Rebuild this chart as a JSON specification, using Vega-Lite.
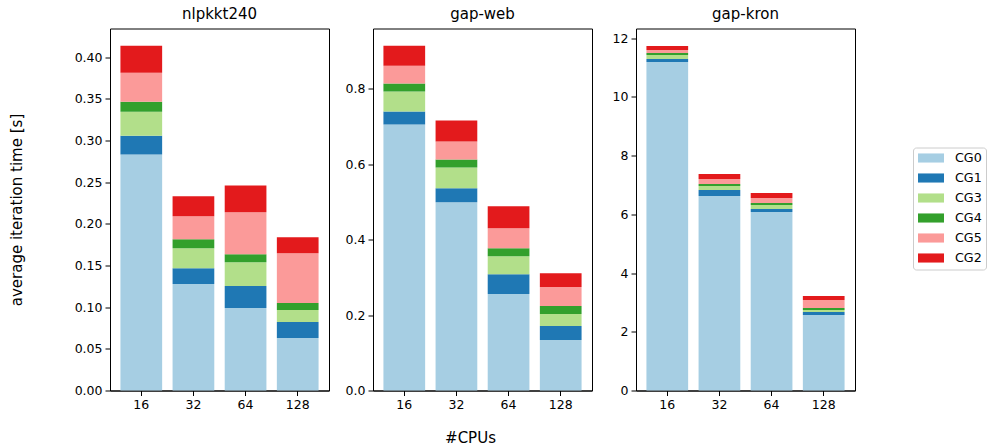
{
  "$schema": "https://vega.github.io/schema/vega-lite/v6.json",
  "padding": {"left": 8, "top": 5.5, "right": 0, "bottom": 0},
  "bounds": "flush",
  "spacing": 44,
  "config": {
    "font": "DejaVu Sans",
    "view": {"stroke": "black", "strokeWidth": 1},
    "axis": {
      "domainColor": "black", "tickColor": "black", "labelColor": "black", "titleColor": "black",
      "labelFont": "DejaVu Sans", "titleFont": "DejaVu Sans",
      "labelFontSize": 12.5, "titleFontSize": 15, "titleFontWeight": "normal",
      "tickSize": 5, "labelPadding": 3, "grid": false, "domainWidth": 1, "tickWidth": 1
    },
    "title": {"fontSize": 15, "fontWeight": "normal", "color": "black", "font": "DejaVu Sans", "offset": 7},
    "legend": {
      "orient": "none", "legendX": 803, "legendY": 119,
      "title": null, "labelFontSize": 12.7, "labelFont": "DejaVu Sans", "labelColor": "black",
      "strokeColor": "#cccccc", "fillColor": "white", "padding": 4, "cornerRadius": 3,
      "symbolType": "M-2,-0.7H2V0.7H-2Z", "symbolSize": 169, "symbolStrokeWidth": 0,
      "symbolOffset": 7.5, "labelOffset": 17.5, "rowPadding": 6
    }
  },
  "datasets": {
    "groups": [
      {"cg": "CG0", "rank": 0}, {"cg": "CG1", "rank": 1}, {"cg": "CG3", "rank": 2},
      {"cg": "CG4", "rank": 3}, {"cg": "CG5", "rank": 4}, {"cg": "CG2", "rank": 5}
    ]
  },
  "data": {"values": [
    {"g": "nlpkkt240", "cpus": 16, "cg": "CG0", "t": 0.283},
    {"g": "nlpkkt240", "cpus": 16, "cg": "CG1", "t": 0.0227},
    {"g": "nlpkkt240", "cpus": 16, "cg": "CG3", "t": 0.0287},
    {"g": "nlpkkt240", "cpus": 16, "cg": "CG4", "t": 0.012},
    {"g": "nlpkkt240", "cpus": 16, "cg": "CG5", "t": 0.0347},
    {"g": "nlpkkt240", "cpus": 16, "cg": "CG2", "t": 0.0323},
    {"g": "nlpkkt240", "cpus": 32, "cg": "CG0", "t": 0.1276},
    {"g": "nlpkkt240", "cpus": 32, "cg": "CG1", "t": 0.0191},
    {"g": "nlpkkt240", "cpus": 32, "cg": "CG3", "t": 0.024},
    {"g": "nlpkkt240", "cpus": 32, "cg": "CG4", "t": 0.0107},
    {"g": "nlpkkt240", "cpus": 32, "cg": "CG5", "t": 0.0275},
    {"g": "nlpkkt240", "cpus": 32, "cg": "CG2", "t": 0.024},
    {"g": "nlpkkt240", "cpus": 64, "cg": "CG0", "t": 0.0989},
    {"g": "nlpkkt240", "cpus": 64, "cg": "CG1", "t": 0.0263},
    {"g": "nlpkkt240", "cpus": 64, "cg": "CG3", "t": 0.0287},
    {"g": "nlpkkt240", "cpus": 64, "cg": "CG4", "t": 0.0096},
    {"g": "nlpkkt240", "cpus": 64, "cg": "CG5", "t": 0.0502},
    {"g": "nlpkkt240", "cpus": 64, "cg": "CG2", "t": 0.0323},
    {"g": "nlpkkt240", "cpus": 128, "cg": "CG0", "t": 0.063},
    {"g": "nlpkkt240", "cpus": 128, "cg": "CG1", "t": 0.0191},
    {"g": "nlpkkt240", "cpus": 128, "cg": "CG3", "t": 0.0144},
    {"g": "nlpkkt240", "cpus": 128, "cg": "CG4", "t": 0.0084},
    {"g": "nlpkkt240", "cpus": 128, "cg": "CG5", "t": 0.0598},
    {"g": "nlpkkt240", "cpus": 128, "cg": "CG2", "t": 0.0191},
    {"g": "gap-web", "cpus": 16, "cg": "CG0", "t": 0.7056},
    {"g": "gap-web", "cpus": 16, "cg": "CG1", "t": 0.0344},
    {"g": "gap-web", "cpus": 16, "cg": "CG3", "t": 0.053},
    {"g": "gap-web", "cpus": 16, "cg": "CG4", "t": 0.0212},
    {"g": "gap-web", "cpus": 16, "cg": "CG5", "t": 0.0476},
    {"g": "gap-web", "cpus": 16, "cg": "CG2", "t": 0.053},
    {"g": "gap-web", "cpus": 32, "cg": "CG0", "t": 0.4992},
    {"g": "gap-web", "cpus": 32, "cg": "CG1", "t": 0.0371},
    {"g": "gap-web", "cpus": 32, "cg": "CG3", "t": 0.0555},
    {"g": "gap-web", "cpus": 32, "cg": "CG4", "t": 0.0212},
    {"g": "gap-web", "cpus": 32, "cg": "CG5", "t": 0.0476},
    {"g": "gap-web", "cpus": 32, "cg": "CG2", "t": 0.0556},
    {"g": "gap-web", "cpus": 64, "cg": "CG0", "t": 0.2558},
    {"g": "gap-web", "cpus": 64, "cg": "CG1", "t": 0.0529},
    {"g": "gap-web", "cpus": 64, "cg": "CG3", "t": 0.0476},
    {"g": "gap-web", "cpus": 64, "cg": "CG4", "t": 0.0212},
    {"g": "gap-web", "cpus": 64, "cg": "CG5", "t": 0.0529},
    {"g": "gap-web", "cpus": 64, "cg": "CG2", "t": 0.0582},
    {"g": "gap-web", "cpus": 128, "cg": "CG0", "t": 0.1341},
    {"g": "gap-web", "cpus": 128, "cg": "CG1", "t": 0.037},
    {"g": "gap-web", "cpus": 128, "cg": "CG3", "t": 0.0318},
    {"g": "gap-web", "cpus": 128, "cg": "CG4", "t": 0.0211},
    {"g": "gap-web", "cpus": 128, "cg": "CG5", "t": 0.0503},
    {"g": "gap-web", "cpus": 128, "cg": "CG2", "t": 0.0371},
    {"g": "gap-kron", "cpus": 16, "cg": "CG0", "t": 11.19},
    {"g": "gap-kron", "cpus": 16, "cg": "CG1", "t": 0.102},
    {"g": "gap-kron", "cpus": 16, "cg": "CG3", "t": 0.136},
    {"g": "gap-kron", "cpus": 16, "cg": "CG4", "t": 0.068},
    {"g": "gap-kron", "cpus": 16, "cg": "CG5", "t": 0.102},
    {"g": "gap-kron", "cpus": 16, "cg": "CG2", "t": 0.136},
    {"g": "gap-kron", "cpus": 32, "cg": "CG0", "t": 6.625},
    {"g": "gap-kron", "cpus": 32, "cg": "CG1", "t": 0.205},
    {"g": "gap-kron", "cpus": 32, "cg": "CG3", "t": 0.136},
    {"g": "gap-kron", "cpus": 32, "cg": "CG4", "t": 0.068},
    {"g": "gap-kron", "cpus": 32, "cg": "CG5", "t": 0.17},
    {"g": "gap-kron", "cpus": 32, "cg": "CG2", "t": 0.17},
    {"g": "gap-kron", "cpus": 64, "cg": "CG0", "t": 6.08},
    {"g": "gap-kron", "cpus": 64, "cg": "CG1", "t": 0.102},
    {"g": "gap-kron", "cpus": 64, "cg": "CG3", "t": 0.136},
    {"g": "gap-kron", "cpus": 64, "cg": "CG4", "t": 0.068},
    {"g": "gap-kron", "cpus": 64, "cg": "CG5", "t": 0.17},
    {"g": "gap-kron", "cpus": 64, "cg": "CG2", "t": 0.17},
    {"g": "gap-kron", "cpus": 128, "cg": "CG0", "t": 2.568},
    {"g": "gap-kron", "cpus": 128, "cg": "CG1", "t": 0.102},
    {"g": "gap-kron", "cpus": 128, "cg": "CG3", "t": 0.068},
    {"g": "gap-kron", "cpus": 128, "cg": "CG4", "t": 0.068},
    {"g": "gap-kron", "cpus": 128, "cg": "CG5", "t": 0.273},
    {"g": "gap-kron", "cpus": 128, "cg": "CG2", "t": 0.136}
  ]},
  "transform": [
    {"lookup": "cg", "from": {"data": {"name": "groups"}, "key": "cg", "fields": ["rank"]}}
  ],
  "hconcat": [
    {
      "title": "nlpkkt240",
      "width": 219, "height": 362,
      "transform": [{"filter": "datum.g === 'nlpkkt240'"}],
      "mark": {"type": "bar"},
      "encoding": {
        "x": {"field": "cpus", "type": "ordinal", "scale": {"paddingInner": 0.2, "paddingOuter": 0.2}, "axis": {"title": null, "labelAngle": 0}},
        "y": {"field": "t", "type": "quantitative", "stack": "zero", "scale": {"domain": [0, 0.4342], "nice": false, "zero": true},
              "axis": {"title": "average iteration time [s]", "titlePadding": 50, "values": [0, 0.05, 0.1, 0.15, 0.2, 0.25, 0.3, 0.35, 0.4], "format": ".2f"}},
        "order": {"field": "rank", "type": "quantitative", "sort": "ascending"},
        "color": {"field": "cg", "type": "nominal", "sort": ["CG0", "CG1", "CG3", "CG4", "CG5", "CG2"],
                  "scale": {"domain": ["CG0", "CG1", "CG3", "CG4", "CG5", "CG2"], "range": ["#a6cee3", "#1f78b4", "#b2df8a", "#33a02c", "#fb9a99", "#e31a1c"]}}
      }
    },
    {
      "title": "gap-web",
      "width": 219, "height": 362,
      "transform": [{"filter": "datum.g === 'gap-web'"}],
      "mark": {"type": "bar"},
      "encoding": {
        "x": {"field": "cpus", "type": "ordinal", "scale": {"paddingInner": 0.2, "paddingOuter": 0.2}, "axis": {"title": "#CPUs", "labelAngle": 0, "titlePadding": 19.5, "titleX": 97}},
        "y": {"field": "t", "type": "quantitative", "stack": "zero", "scale": {"domain": [0, 0.9604], "nice": false, "zero": true},
              "axis": {"title": null, "values": [0, 0.2, 0.4, 0.6, 0.8], "format": ".1f"}},
        "order": {"field": "rank", "type": "quantitative", "sort": "ascending"},
        "color": {"field": "cg", "type": "nominal", "sort": ["CG0", "CG1", "CG3", "CG4", "CG5", "CG2"],
                  "scale": {"domain": ["CG0", "CG1", "CG3", "CG4", "CG5", "CG2"], "range": ["#a6cee3", "#1f78b4", "#b2df8a", "#33a02c", "#fb9a99", "#e31a1c"]}}
      }
    },
    {
      "title": "gap-kron",
      "width": 219, "height": 362,
      "transform": [{"filter": "datum.g === 'gap-kron'"}],
      "mark": {"type": "bar"},
      "encoding": {
        "x": {"field": "cpus", "type": "ordinal", "scale": {"paddingInner": 0.2, "paddingOuter": 0.2}, "axis": {"title": null, "labelAngle": 0}},
        "y": {"field": "t", "type": "quantitative", "stack": "zero", "scale": {"domain": [0, 12.33], "nice": false, "zero": true},
              "axis": {"title": null, "values": [0, 2, 4, 6, 8, 10, 12], "format": "d"}},
        "order": {"field": "rank", "type": "quantitative", "sort": "ascending"},
        "color": {"field": "cg", "type": "nominal", "sort": ["CG0", "CG1", "CG3", "CG4", "CG5", "CG2"],
                  "scale": {"domain": ["CG0", "CG1", "CG3", "CG4", "CG5", "CG2"], "range": ["#a6cee3", "#1f78b4", "#b2df8a", "#33a02c", "#fb9a99", "#e31a1c"]}}
      }
    }
  ],
  "resolve": {"scale": {"y": "independent"}}
}
